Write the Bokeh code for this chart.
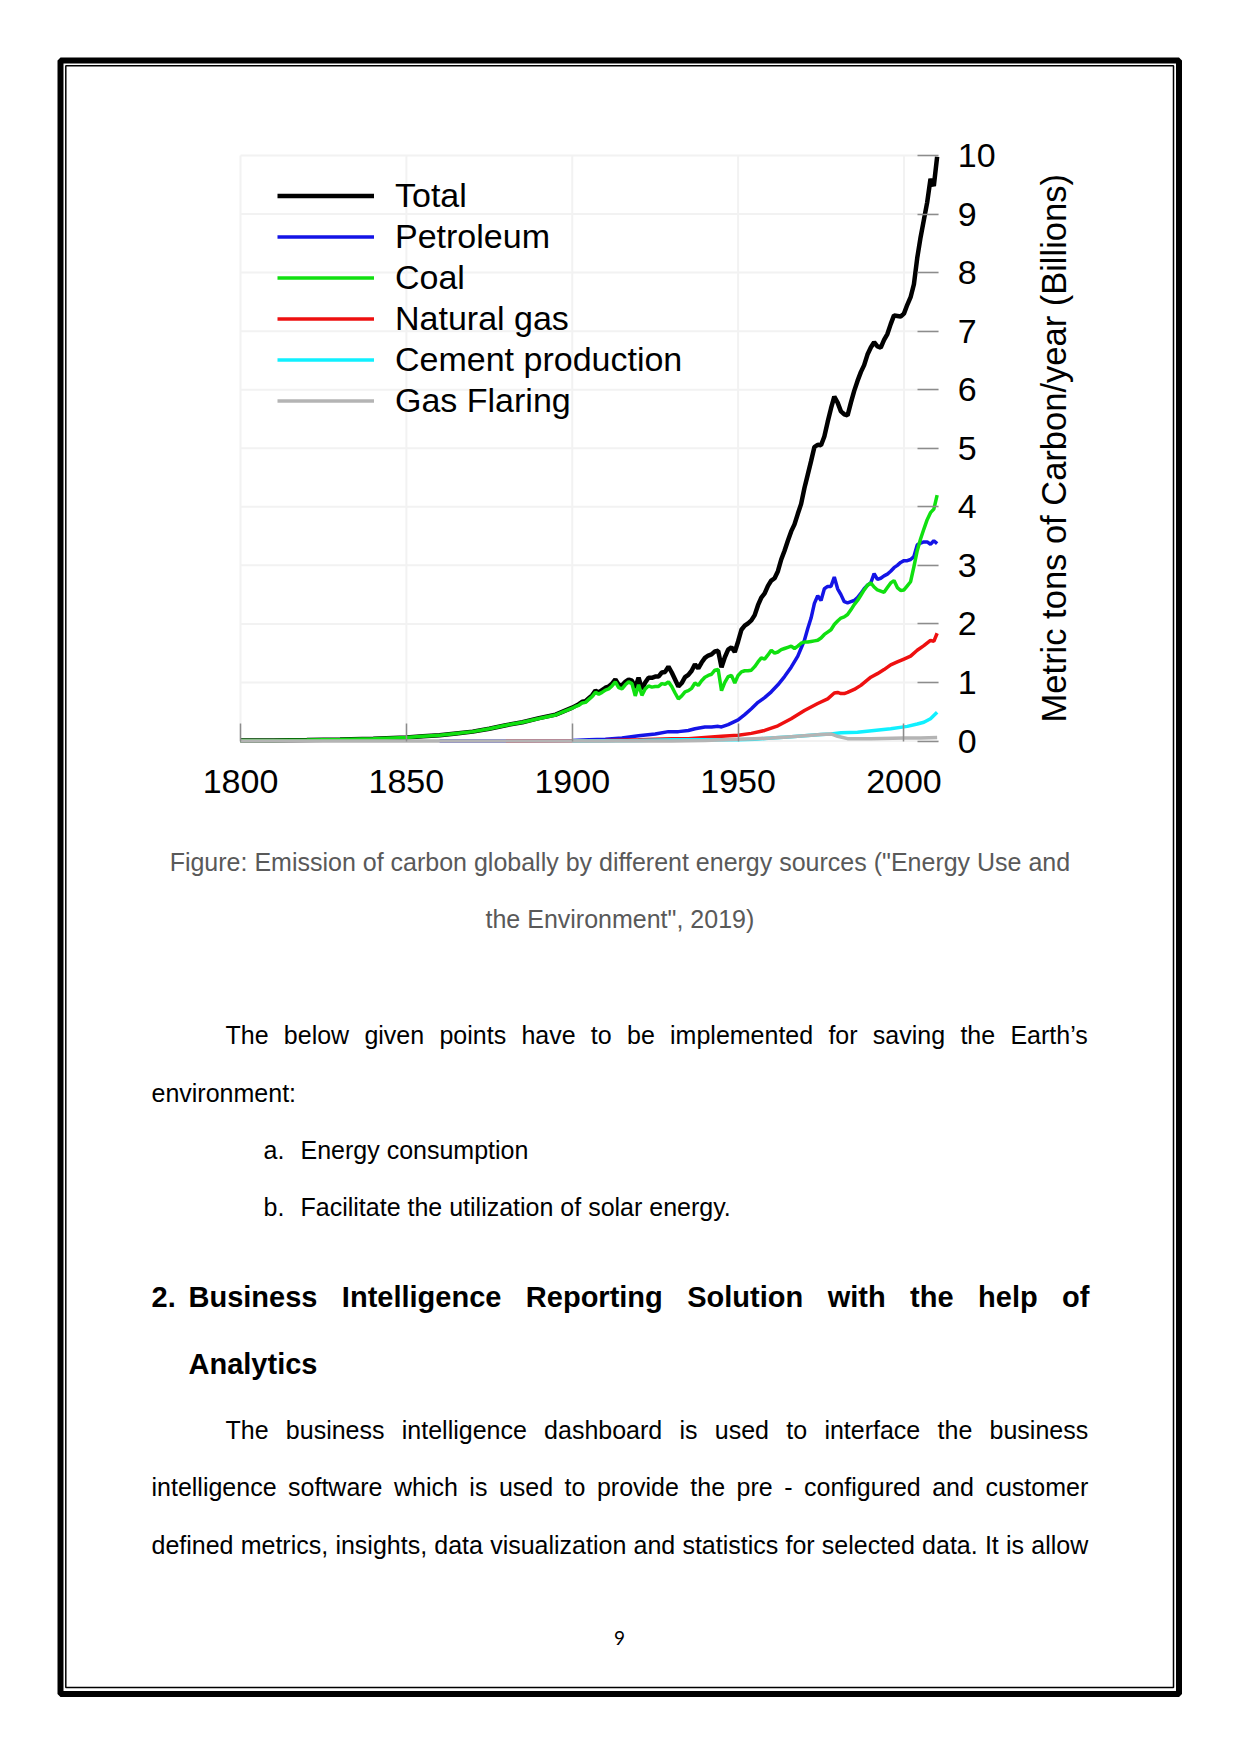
import math
from bokeh.plotting import figure
from bokeh.models import (Label, BoxAnnotation, Legend, LegendItem, FixedTicker, Range1d)
from bokeh.embed import file_html
from bokeh.resources import INLINE

# ---------------- data (billions of metric tons of carbon / year) ----------------
early_years = [1800, 1810, 1820, 1830, 1840, 1850, 1855, 1860, 1865, 1870, 1875, 1880, 1885, 1890, 1895]
annual_years = list(range(1900, 2011))

total_early = [0.01, 0.01, 0.015, 0.025, 0.04, 0.06, 0.08, 0.10, 0.13, 0.16, 0.21, 0.27, 0.32, 0.39, 0.45]
total_annual = [0.57, 0.60, 0.63, 0.67, 0.68, 0.73, 0.78, 0.86, 0.83, 0.87,
                0.91, 0.93, 0.98, 1.05, 0.96, 0.95, 1.01, 1.05, 1.03, 0.91,
                1.08, 0.89, 1.00, 1.08, 1.08, 1.10, 1.10, 1.17, 1.18, 1.27,
                1.17, 1.05, 0.93, 0.99, 1.09, 1.13, 1.20, 1.31, 1.24, 1.34,
                1.42, 1.46, 1.48, 1.53, 1.54, 1.26, 1.43, 1.56, 1.60, 1.52,
                1.70, 1.90, 1.97, 2.01, 2.06, 2.15, 2.32, 2.45, 2.52, 2.65,
                2.74, 2.78, 2.90, 3.10, 3.25, 3.42, 3.58, 3.70, 3.88, 4.05,
                4.32, 4.55, 4.78, 5.02, 5.06, 5.05, 5.20, 5.45, 5.68, 5.88,
                5.78, 5.63, 5.58, 5.56, 5.78, 5.98, 6.15, 6.30, 6.42, 6.60,
                6.72, 6.81, 6.74, 6.72, 6.85, 6.95, 7.12, 7.27, 7.26, 7.25,
                7.30, 7.45, 7.58, 7.80, 8.25, 8.60, 8.90, 9.20, 9.60, 9.48,
                9.98]

coal_early = [0.01, 0.01, 0.015, 0.025, 0.04, 0.06, 0.08, 0.10, 0.13, 0.16, 0.21, 0.27, 0.32, 0.385, 0.445]
coal_annual = [0.56, 0.59, 0.61, 0.65, 0.66, 0.71, 0.76, 0.83, 0.80, 0.83,
               0.87, 0.89, 0.94, 1.01, 0.91, 0.89, 0.96, 1.01, 0.98, 0.77,
               0.96, 0.78, 0.89, 0.94, 0.92, 0.93, 0.93, 0.98, 0.97, 1.01,
               0.93, 0.82, 0.72, 0.77, 0.84, 0.86, 0.90, 0.99, 0.95, 1.03,
               1.09, 1.12, 1.14, 1.21, 1.22, 0.86, 1.00, 1.10, 1.12, 0.99,
               1.12, 1.18, 1.20, 1.20, 1.21, 1.27, 1.35, 1.42, 1.40, 1.47,
               1.55, 1.50, 1.52, 1.56, 1.58, 1.60, 1.62, 1.58, 1.62, 1.67,
               1.69, 1.69, 1.70, 1.71, 1.72, 1.76, 1.82, 1.86, 1.90, 1.99,
               2.05, 2.10, 2.12, 2.16, 2.24, 2.33, 2.40, 2.49, 2.58, 2.66,
               2.70, 2.63, 2.58, 2.56, 2.54, 2.62, 2.70, 2.74, 2.62, 2.57,
               2.58, 2.65, 2.72, 2.98, 3.25, 3.45, 3.62, 3.78, 3.90, 3.96,
               4.20]

petroleum_years = [1860, 1880, 1890, 1900, 1905, 1910, 1915, 1920, 1925, 1929, 1932, 1935, 1937, 1940,
                   1942, 1944, 1945, 1947, 1950, 1952, 1954, 1956, 1958, 1960, 1962, 1964, 1966,
                   1968, 1970, 1971, 1972, 1973, 1974, 1975, 1976, 1977, 1978, 1979, 1980, 1981,
                   1982, 1983, 1984, 1985, 1986, 1987, 1988, 1989, 1990, 1991, 1992, 1993, 1994,
                   1995, 1996, 1997, 1998, 1999, 2000, 2001, 2002, 2003, 2004, 2005, 2006, 2007,
                   2008, 2009, 2010]
petroleum = [0.0, 0.0, 0.005, 0.01, 0.02, 0.03, 0.05, 0.09, 0.12, 0.16, 0.16, 0.18, 0.21, 0.24,
             0.24, 0.25, 0.24, 0.28, 0.36, 0.45, 0.55, 0.66, 0.74, 0.84, 0.96, 1.10, 1.26,
             1.45, 1.72, 1.92, 2.10, 2.35, 2.48, 2.40, 2.60, 2.64, 2.64, 2.80, 2.60, 2.50,
             2.38, 2.36, 2.38, 2.40, 2.45, 2.52, 2.60, 2.66, 2.70, 2.86, 2.76, 2.78, 2.82,
             2.85, 2.90, 2.96, 3.00, 3.05, 3.08, 3.08, 3.10, 3.15, 3.35, 3.38, 3.40, 3.40,
             3.36, 3.42, 3.37]

gas_years = [1880, 1900, 1910, 1920, 1925, 1930, 1935, 1940, 1945, 1950, 1954, 1958, 1962, 1966,
             1970, 1974, 1977, 1979, 1980, 1981, 1982, 1983, 1985, 1987, 1990, 1992, 1994, 1996,
             1998, 2000, 2002, 2004, 2006, 2008, 2009, 2010]
natural_gas = [0.0, 0.005, 0.01, 0.02, 0.03, 0.04, 0.04, 0.06, 0.08, 0.10, 0.13, 0.18, 0.26, 0.38,
               0.52, 0.64, 0.72, 0.82, 0.83, 0.81, 0.81, 0.83, 0.88, 0.95, 1.09, 1.15, 1.22, 1.30,
               1.35, 1.40, 1.45, 1.55, 1.63, 1.72, 1.70, 1.84]

cement_years = [1900, 1920, 1930, 1940, 1950, 1955, 1960, 1965, 1970, 1975, 1978, 1981, 1986,
                1991, 1996, 2001, 2004, 2006, 2008, 2010]
cement = [0.0, 0.01, 0.02, 0.02, 0.02, 0.03, 0.05, 0.07, 0.09, 0.11, 0.12, 0.14, 0.15,
          0.18, 0.21, 0.25, 0.29, 0.32, 0.38, 0.49]

flaring_years = [1800, 1900, 1930, 1940, 1950, 1955, 1960, 1965, 1970, 1975, 1978, 1980, 1983,
                 1990, 2000, 2005, 2010]
gas_flaring = [0.0, 0.0, 0.0, 0.01, 0.03, 0.04, 0.05, 0.07, 0.09, 0.11, 0.12, 0.08, 0.04,
               0.04, 0.05, 0.05, 0.06]

series_names = ["Total", "Petroleum", "Coal", "Natural gas", "Cement production", "Gas Flaring"]
x_ticks = [1800, 1850, 1900, 1950, 2000]
y_ticks = [0, 1, 2, 3, 4, 5, 6, 7, 8, 9, 10]
y_title = "Metric tons of Carbon/year (Billions)"

caption_lines = ['Figure: Emission of carbon globally by different energy sources ("Energy Use and',
                 'the Environment", 2019)']

# ---------------- layout: the whole canvas is the frame (page pixels) ----------------
W, H = 1232, 1746
CL, CR, C0, C10 = 240.0, 938.3, 740.5, 155.0      # chart area in page pixels
XA, XB = 1800, 2010.5                             # chart x extent (years)
YA, YB = 0, 10
SX = (CR - CL) / (XB - XA)
SY = (C0 - C10) / (YB - YA)


def DX(px):
    return XA + (px - CL) / SX


def DY(py):
    return YA + (C0 - py) / SY


p = figure(width=W, height=H,
           x_range=Range1d(DX(0), DX(W)), y_range=Range1d(DY(H), DY(0)),
           y_axis_location="right", output_backend="svg", toolbar_location=None,
           min_border=0, min_border_left=0, min_border_right=0,
           min_border_top=0, min_border_bottom=0)
p.outline_line_color = None
p.background_fill_color = "white"
p.border_fill_color = "white"
p.xgrid.visible = False
p.ygrid.visible = False

CHART_FONT = "Liberation Sans"

xa = p.xaxis[0]
xa.fixed_location = YA
xa.bounds = (XA, XB)
xa.ticker = FixedTicker(ticks=x_ticks)
xa.major_tick_in = 18
xa.major_tick_out = 0
xa.major_tick_line_color = "#8c8c8c"
xa.major_tick_line_width = 1.5
xa.minor_tick_line_color = None
xa.axis_line_color = None
xa.major_label_text_font = CHART_FONT
xa.major_label_text_font_size = "34px"
xa.major_label_text_color = "#000000"
xa.major_label_standoff = 29

ya = p.yaxis[0]
ya.fixed_location = XB
ya.bounds = (YA, YB)
ya.ticker = FixedTicker(ticks=y_ticks)
ya.major_tick_in = 21
ya.major_tick_out = 0
ya.major_tick_line_color = "#8c8c8c"
ya.major_tick_line_width = 1.5
ya.minor_tick_line_color = None
ya.axis_line_color = None
ya.major_label_text_font = CHART_FONT
ya.major_label_text_font_size = "34px"
ya.major_label_text_color = "#000000"
ya.major_label_standoff = 19

# faint grid of the chart area, from the tick arrays
p.segment(x0=[XA] * len(y_ticks), x1=[XB] * len(y_ticks), y0=y_ticks, y1=y_ticks,
          line_color="#f2f2f2", line_width=2)
p.segment(x0=x_ticks, x1=x_ticks, y0=[YA] * len(x_ticks), y1=[YB] * len(x_ticks),
          line_color="#f2f2f2", line_width=2)

r_total = p.line(early_years + annual_years, total_early + total_annual, color="black", line_width=4.5)
r_pet = p.line(petroleum_years, petroleum, color="#1414e6", line_width=3.5)
r_coal = p.line(early_years + annual_years, coal_early + coal_annual, color="#10e010", line_width=3.5)
r_gas = p.line(gas_years, natural_gas, color="#ee1010", line_width=3.5)
r_cem = p.line(cement_years, cement, color="#10f0ff", line_width=3.5)
r_flr = p.line(flaring_years, gas_flaring, color="#b4b4b4", line_width=3.5)

renderers = [r_total, r_pet, r_coal, r_gas, r_cem, r_flr]
legend = Legend(items=[LegendItem(label=n, renderers=[r]) for n, r in zip(series_names, renderers)],
                location=(int(CL) + 37, H - int(C0) + 319), padding=0, margin=0, spacing=0,
                glyph_width=97, glyph_height=41, label_height=41, label_standoff=21,
                label_text_font=CHART_FONT, label_text_font_size="34px", label_text_color="#000000",
                background_fill_alpha=0, border_line_color=None)
p.add_layout(legend)

p.add_layout(Label(x=DX(1053), y=DY(447.7), text=y_title, angle=math.pi / 2,
                   text_font=CHART_FONT, text_font_size="34.5px", text_color="#000000",
                   text_align="center", text_baseline="middle"))

# ---------------- page border ----------------
p.add_layout(BoxAnnotation(left=DX(60), right=DX(1178.5), top=DY(60), bottom=DY(1693.5),
                           fill_alpha=0, line_color="black", line_alpha=1.0, line_width=6))
p.add_layout(BoxAnnotation(left=DX(65.3), right=DX(1173), top=DY(65.3), bottom=DY(1687),
                           fill_alpha=0, line_color="black", line_alpha=1.0, line_width=1.5))

# ---------------- page text ----------------
REG = {' ': 278, '!': 278, '"': 355, "'": 191, '(': 333, ')': 333, ',': 278, '-': 333, '.': 278,
       '/': 278, ':': 278, ';': 278, '?': 556, '\u2019': 222}
for ch in "0123456789":
    REG[ch] = 556
REG.update(dict(zip("ABCDEFGHIJKLMNOPQRSTUVWXYZ",
                    [667, 667, 722, 722, 667, 611, 778, 722, 278, 500, 667, 556, 833, 722, 778, 667,
                     778, 722, 667, 611, 722, 667, 944, 667, 667, 611])))
REG.update(dict(zip("abcdefghijklmnopqrstuvwxyz",
                    [556, 556, 500, 556, 556, 278, 556, 556, 222, 222, 500, 222, 833, 556, 556, 556,
                     556, 333, 500, 278, 556, 500, 722, 500, 500, 500])))
BLD = dict(REG)
BLD.update(dict(zip("ABCDEFGHIJKLMNOPQRSTUVWXYZ",
                    [722, 722, 722, 722, 667, 611, 778, 722, 278, 556, 722, 611, 833, 722, 778, 667,
                     778, 722, 667, 611, 722, 667, 944, 667, 667, 611])))
BLD.update(dict(zip("abcdefghijklmnopqrstuvwxyz",
                    [556, 611, 556, 611, 556, 333, 611, 611, 278, 278, 556, 278, 889, 611, 611, 611,
                     611, 389, 556, 333, 611, 556, 778, 556, 556, 500])))

TEXT_FONT = "Liberation Sans"


def tw(s, size, bold=False):
    t = BLD if bold else REG
    return sum(t.get(c, 556) for c in s) * size / 1000.0


def put(text, px, py, size, color="black", align="left", bold=False, font=TEXT_FONT):
    p.add_layout(Label(x=DX(px), y=DY(py), text=text, text_font=font,
                       text_font_size=f"{size}px", text_color=color, text_align=align,
                       text_baseline="middle", text_font_style="bold" if bold else "normal"))


def justify(line, left, right, py, size, bold=False):
    words = line.split(" ")
    widths = [tw(w, size, bold) for w in words]
    gap = (right - left - sum(widths)) / (len(words) - 1)
    x = left
    for w, wd in zip(words, widths):
        put(w, x, py, size, bold=bold)
        x += wd + gap


put(caption_lines[0], 619.4, 861.6, 25, color="#595959", align="center")
put(caption_lines[1], 619.4, 918.7, 25, color="#595959", align="center")

BODY = 25
justify("The below given points have to be implemented for saving the Earth\u2019s", 225, 1087.7, 1034, BODY)
put("environment:", 151, 1092, BODY)
put("a.", 263, 1149, BODY)
put("Energy consumption", 300, 1149, BODY)
put("b.", 263, 1206, BODY)
put("Facilitate the utilization of solar energy.", 300, 1206, BODY)

HEAD = 29
put("2.", 151, 1296, HEAD, bold=True)
justify("Business Intelligence Reporting Solution with the help of", 188, 1089, 1296, HEAD, bold=True)
put("Analytics", 188, 1363, HEAD, bold=True)

justify("The business intelligence dashboard is used to interface the business", 225, 1087.7, 1429, BODY)
justify("intelligence software which is used to provide the pre - configured and customer", 151, 1087.7, 1486, BODY)
justify("defined metrics, insights, data visualization and statistics for selected data. It is allow", 151, 1087.7, 1544, BODY)

put("9", 619, 1637, 19, align="center", font="Lato")

open("out.html", "w").write(file_html(p, INLINE))
